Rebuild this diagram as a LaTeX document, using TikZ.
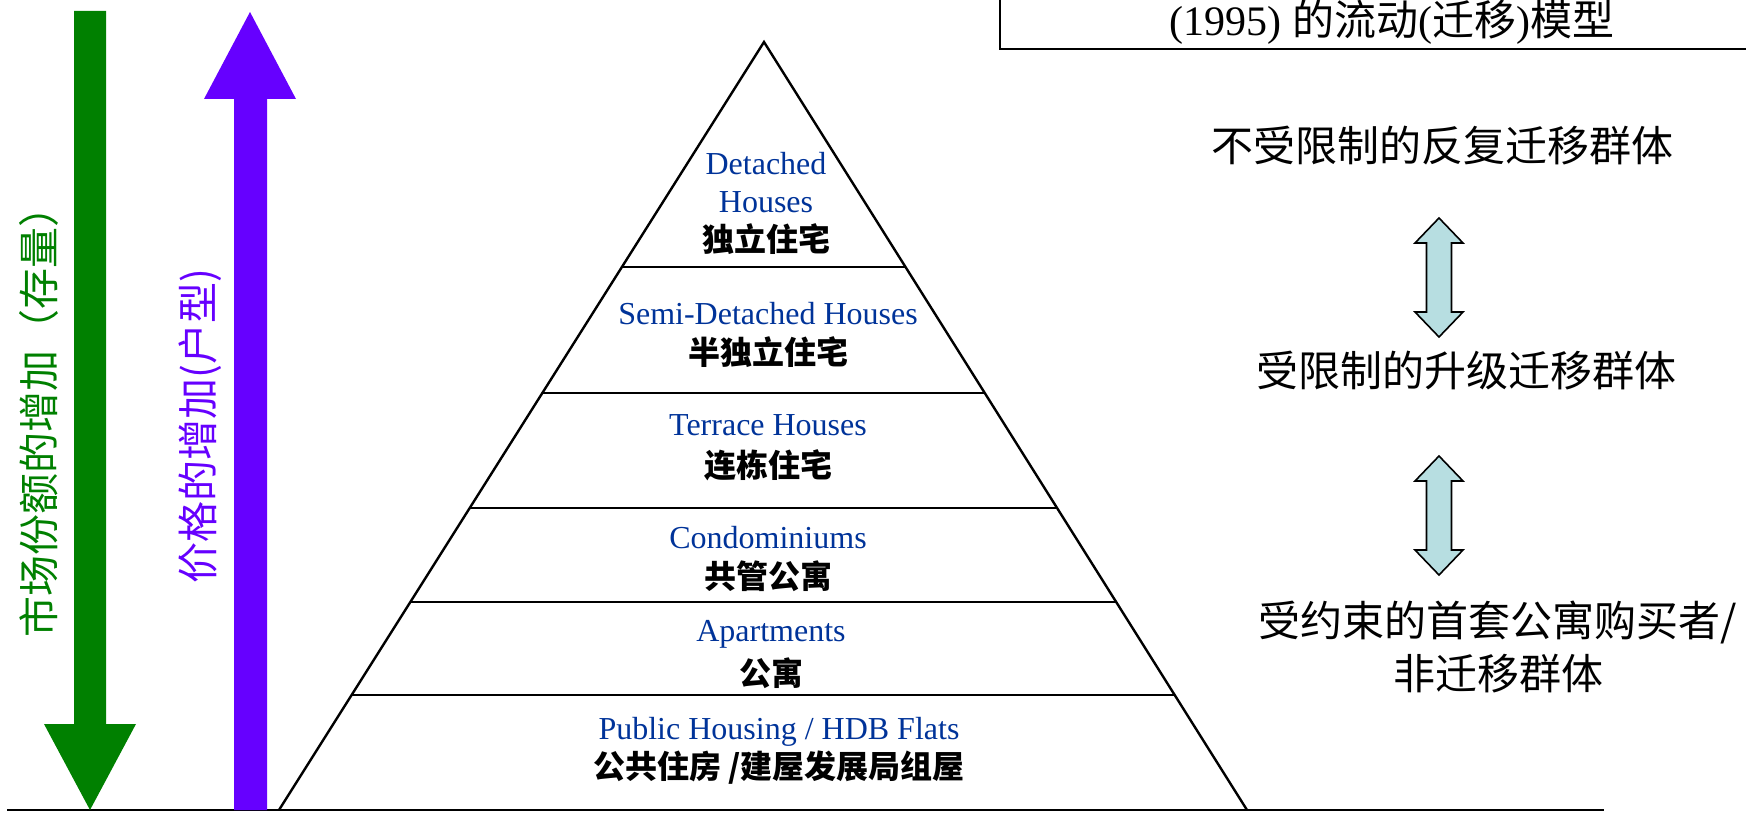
\documentclass[tikz,border=0pt]{standalone}
\usepackage{fontspec}
\usetikzlibrary{calc}
\setmainfont{Liberation Serif}
\newfontfamily\cjk{Noto Sans CJK SC}
\definecolor{tierblue}{RGB}{0,51,153}
\definecolor{arrgreen}{RGB}{0,128,0}
\definecolor{arrpurple}{RGB}{102,0,255}
\definecolor{dblfill}{RGB}{183,222,225}
\tikzset{
  en/.style={text=tierblue, font=\fontsize{16}{18}\selectfont, inner sep=0pt},
  zh/.style={font=\cjk\bfseries\fontsize{16}{18}\selectfont, inner sep=0pt},
  side/.style={font=\cjk\fontsize{21}{26.5}\selectfont, inner sep=0pt, align=center},
  vert/.style={rotate=90, font=\cjk\fontsize{20.5}{24}\selectfont, inner sep=0pt},
  tierline/.style={line width=1.2pt},
  dbl/.style={draw=black, fill=dblfill, line width=0.8pt, line join=miter},
}
\begin{document}
\begin{tikzpicture}[x=0.5pt,y=-0.5pt]
\useasboundingbox (0,0) rectangle (1746,813);

% title box (partly outside)
\draw[line width=1pt] (1000,-30) rectangle (1780,49);
\node[inner sep=0pt, font=\fontsize{21}{24}\selectfont] (title) at (1392,22)
  {(1995) {\cjk 的流动}({\cjk 迁移}){\cjk 模型}};

% base line
\coordinate (gl) at (7,810);
\coordinate (gr) at (1604,810);
\draw[line width=1pt] (gl) -- (gr);

% green down arrow
\fill[arrgreen] (74,11) -- (106,11) -- (106,724) -- (136,724) -- (90,810) -- (44,724) -- (74,724) -- cycle;
% purple up arrow
\fill[arrpurple] (250,12) -- (296,99) -- (267,99) -- (267,810) -- (234,810) -- (234,99) -- (204,99) -- cycle;

\node[vert, text=arrgreen] (share) at (39,412) {市场份额的增加（存量）};
\node[vert, text=arrpurple] (price) at (200,426) {价格的增加(户型)};

% pyramid
\coordinate (apex) at (764,42);
\coordinate (bl) at (279,810);
\coordinate (br) at (1247,810);
\draw[tierline, line join=miter] (bl) -- (apex) -- (br);
\foreach \t in {0.293,0.457,0.607,0.729,0.850}
  \draw[tierline] ($(apex)!\t!(bl)$) -- ($(apex)!\t!(br)$);

\node[en] (d1) at (766,164) {Detached};
\node[en] (d2) at (766,202) {Houses};
\node[zh] (d3) at (766,239) {独立住宅};
\node[en] (s1) at (768,314) {Semi-Detached Houses};
\node[zh] (s2) at (768,352) {半独立住宅};
\node[en] (t1) at (768,425) {Terrace Houses};
\node[zh] (t2) at (768,465) {连栋住宅};
\node[en] (c1) at (768,538) {Condominiums};
\node[zh] (c2) at (768,576) {共管公寓};
\node[en] (a1) at (771,634) {Apartments};
\node[zh] (a2) at (771,673) {公寓};
\node[en] (p1) at (779,732) {Public Housing / HDB Flats};
\node[zh] (p2) at (779,768) {公共住房 /建屋发展局组屋};

% right side texts
\node[side] (g1) at (1442,146) {不受限制的反复迁移群体};
\node[side] (g2) at (1466,371) {受限制的升级迁移群体};
\node[side] (g3) at (1498,647) {受约束的首套公寓购买者/\\非迁移群体};

% double arrows
\foreach \top/\bot in {218/337,456/575}{
  \draw[dbl] (1439,\top) -- (1463,\top+25) -- (1451.5,\top+25) -- (1451.5,\bot-25)
    -- (1463,\bot-25) -- (1439,\bot) -- (1415,\bot-25) -- (1426.5,\bot-25)
    -- (1426.5,\top+25) -- (1415,\top+25) -- cycle;
}
\end{tikzpicture}
\end{document}
